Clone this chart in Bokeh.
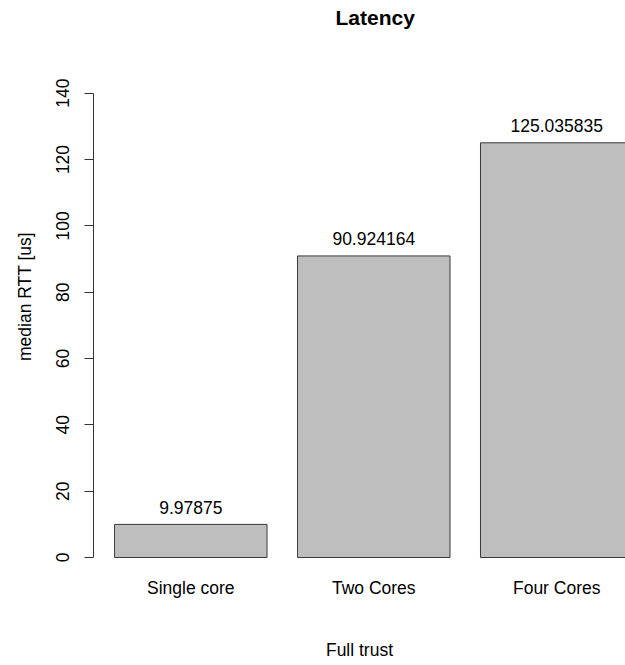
from bokeh.plotting import figure
from bokeh.models import FixedTicker, Range1d
from bokeh.core.properties import value
from bokeh.embed import file_html
from bokeh.resources import INLINE

# ---- data ----
categories = ["Single core", "Two Cores", "Four Cores"]
rtt_values = [9.97875, 90.924164, 125.035835]
y_ticks = [0, 20, 40, 60, 80, 100, 120, 140]
title_text = "Latency"
x_label = "Full trust"
y_label = "median RTT [us]"

FONT = "Liberation Sans"
FS = "17.5px"

xs = list(range(len(categories)))
labels = [str(v) for v in rtt_values]

p = figure(width=625, height=665, output_backend="svg", toolbar_location=None,
           x_range=Range1d(-0.5317, 2.3758), y_range=Range1d(-1.508, 158.9),
           min_border_left=93, min_border_right=0, min_border_top=30, min_border_bottom=103)
p.outline_line_color = None
p.xgrid.visible = False
p.ygrid.visible = False
p.background_fill_color = "white"
p.border_fill_color = "white"

p.title.text = title_text
p.title.text_font = FONT
p.title.text_font_size = "21px"
p.title.text_font_style = "bold"
p.title.text_color = "#000000"
p.title.align = "left"
p.title.offset = 242
p.title.standoff = 3

p.vbar(x=xs, top=rtt_values, bottom=0, width=1 / 1.2,
       fill_color="#bebebe", line_color="#3a3a3a", line_width=1)

p.text(x=xs, y=rtt_values, text=labels, text_align="center", text_baseline="alphabetic",
       y_offset=-17, text_font=value(FONT), text_font_size=FS, text_color="#000000")

ya = p.yaxis[0]
ya.ticker = FixedTicker(ticks=y_ticks)
ya.bounds = (0, 140)
ya.major_label_orientation = "vertical"
ya.major_tick_out = 9
ya.major_tick_in = 0
ya.minor_tick_out = 0
ya.minor_tick_in = 0
ya.major_label_standoff = 15
ya.axis_line_color = "#333333"
ya.major_tick_line_color = "#333333"
ya.major_label_text_font = FONT
ya.major_label_text_font_size = FS
ya.major_label_text_color = "#000000"
ya.axis_label = y_label
ya.axis_label_text_font = FONT
ya.axis_label_text_font_size = FS
ya.axis_label_text_font_style = "normal"
ya.axis_label_text_color = "#000000"
ya.axis_label_standoff = 19

xa = p.xaxis[0]
xa.ticker = FixedTicker(ticks=xs)
xa.major_label_overrides = {i: c for i, c in zip(xs, categories)}
xa.axis_line_color = None
xa.major_tick_line_color = None
xa.minor_tick_line_color = None
xa.major_tick_out = 0
xa.major_tick_in = 0
xa.minor_tick_out = 0
xa.minor_tick_in = 0
xa.major_label_standoff = 15
xa.major_label_text_font = FONT
xa.major_label_text_font_size = FS
xa.major_label_text_color = "#000000"
xa.axis_label = x_label
xa.axis_label_text_font = FONT
xa.axis_label_text_font_size = FS
xa.axis_label_text_font_style = "normal"
xa.axis_label_text_color = "#000000"
xa.axis_label_standoff = 39

open("out.html", "w").write(file_html(p, INLINE))
